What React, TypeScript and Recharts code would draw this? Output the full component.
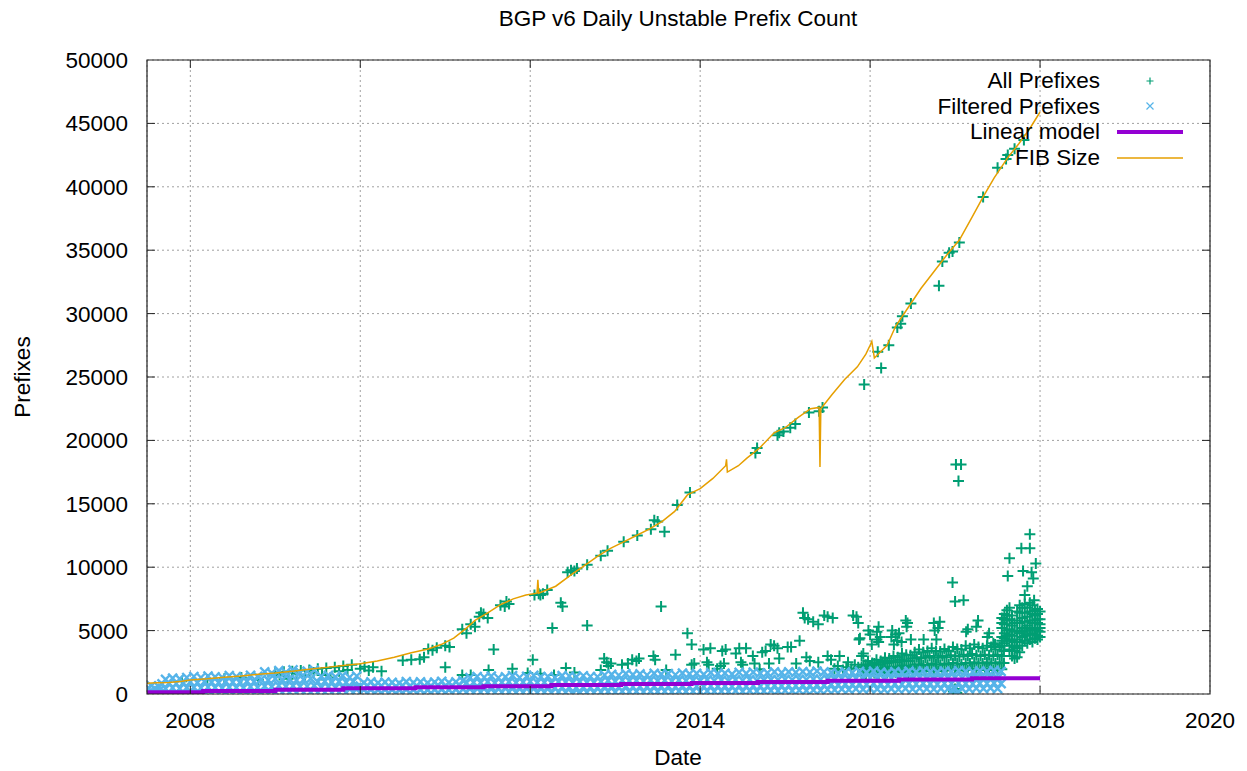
import {
  ComposedChart,
  Scatter,
  Line,
  XAxis,
  YAxis,
  CartesianGrid,
  ReferenceArea,
  ReferenceLine,
  Legend,
} from "recharts"

const FONT = '"Liberation Sans", Arial, Helvetica, sans-serif'
const FS = 22.5

const X_MIN = 2007.49
const X_MAX = 2020
const xTicks = [2008, 2010, 2012, 2014, 2016, 2018, 2020]
const yTicks = [0, 5000, 10000, 15000, 20000, 25000, 30000, 35000, 40000, 45000, 50000]

// FIB size (year, prefixes)
const fibSize: [number, number][] = [
  [2007.49, 850], [2007.6, 880], [2007.75, 900], [2007.9, 1000], [2008.0, 1100],
  [2008.2, 1200], [2008.4, 1330], [2008.6, 1420], [2008.8, 1550], [2009.0, 1650],
  [2009.2, 1800], [2009.4, 1950], [2009.6, 2100], [2009.8, 2250], [2010.0, 2380],
  [2010.2, 2600], [2010.4, 2900], [2010.6, 3250], [2010.8, 3550], [2010.95, 3900],
  [2011.1, 4400], [2011.25, 5200], [2011.35, 5800], [2011.5, 6400], [2011.65, 7050],
  [2011.8, 7500], [2011.95, 7800], [2012.08, 7950], [2012.09, 9000], [2012.1, 7950],
  [2012.3, 8500], [2012.5, 9500], [2012.6, 9950], [2012.8, 10900], [2012.95, 11500],
  [2013.1, 12000], [2013.25, 12500], [2013.4, 13000], [2013.55, 13600], [2013.7, 14400],
  [2013.85, 15700], [2014.0, 16200], [2014.15, 17000], [2014.3, 18000], [2014.31, 18500],
  [2014.32, 17500], [2014.45, 18000], [2014.55, 18600], [2014.7, 19400], [2014.87, 20600],
  [2015.0, 21000], [2015.15, 21800], [2015.3, 22500], [2015.4, 22600], [2015.41, 17900],
  [2015.42, 22500], [2015.55, 23600], [2015.7, 24800], [2015.85, 25800], [2015.95, 26800],
  [2016.0, 27500], [2016.02, 27800], [2016.05, 26500], [2016.2, 27500], [2016.3, 29000],
  [2016.45, 30500], [2016.6, 32000], [2016.75, 33300], [2016.9, 34600], [2017.05, 35800],
  [2017.2, 37600], [2017.33, 39200], [2017.46, 40700], [2017.62, 42300], [2017.75, 43400],
  [2017.88, 44600], [2018.0, 45900],
]

// linear model, held between refits
const linearModel: [number, number][] = [
  [2007.49, 130], [2008.15, 240], [2009.0, 340], [2009.8, 450], [2010.65, 540],
  [2011.45, 620], [2012.25, 700], [2013.07, 780], [2013.9, 860], [2014.68, 950],
  [2015.5, 1050], [2016.34, 1150], [2017.2, 1250], [2018.0, 1250],
]

// all prefixes: points on / near the FIB curve
const allNearFib: [number, number][] = [
  [2007.9, 1000], [2008.2, 1150], [2008.4, 1200], [2008.6, 1300], [2008.8, 1100],
  [2009.0, 1700], [2009.05, 1500], [2009.1, 1750], [2009.15, 1200], [2009.2, 1800],
  [2009.25, 1600], [2009.3, 1850], [2009.35, 1400], [2009.4, 1900], [2009.45, 1700],
  [2009.5, 2000], [2009.55, 1500], [2009.6, 2050], [2009.65, 1300], [2009.7, 2100],
  [2009.75, 1800], [2009.8, 2200], [2009.85, 1900], [2009.9, 2300], [2010.0, 2000],
  [2010.05, 2150], [2010.1, 1850], [2010.15, 2100], [2010.25, 1800],
  [2010.5, 2650], [2010.6, 2700], [2010.7, 2750], [2010.75, 2900],
  [2010.8, 3550], [2010.85, 3450], [2010.9, 3650], [2011.0, 3800], [2011.05, 3700],
  [2011.2, 5100], [2011.25, 4800], [2011.3, 5500], [2011.35, 5300],
  [2011.4, 6100], [2011.42, 6400], [2011.45, 6300], [2011.5, 6000], [2011.65, 7000],
  [2011.7, 6900], [2011.72, 7300], [2011.75, 7100],
  [2012.05, 7800], [2012.1, 7900], [2012.12, 7800], [2012.15, 7900], [2012.2, 8200],
  [2012.44, 9600], [2012.48, 9750], [2012.52, 9700], [2012.55, 9900], [2012.67, 10200],
  [2012.83, 10900], [2012.91, 11300], [2013.1, 12000], [2013.26, 12500], [2013.42, 13000],
  [2013.46, 13700], [2013.5, 13600], [2013.58, 12800], [2013.73, 14900], [2013.88, 15900],
  [2014.65, 19000], [2014.67, 19400], [2014.91, 20400], [2014.93, 20600], [2014.98, 20700],
  [2015.06, 21000], [2015.12, 21300], [2015.28, 22200], [2015.4, 22300], [2015.44, 22600],
  [2015.93, 24400], [2016.09, 27000], [2016.13, 25700], [2016.22, 27500], [2016.32, 28900],
  [2016.36, 29200], [2016.38, 29800], [2016.48, 30800], [2016.81, 32200], [2016.85, 34100],
  [2016.93, 34800], [2016.97, 34900], [2017.05, 35600], [2017.33, 39200], [2017.5, 41500],
  [2017.6, 42200], [2017.62, 42500], [2017.7, 43000], [2017.81, 43700],
]

// all prefixes: scattered points above the filtered band
const allScattered: [number, number][] = [
  [2011.0, 2100], [2011.2, 1500], [2011.3, 1500], [2011.51, 1900], [2011.57, 3500],
  [2011.79, 2000], [2011.97, 1650], [2012.03, 2700], [2012.12, 1600],
  [2012.26, 5200], [2012.28, 1500], [2012.36, 7200], [2012.38, 6900], [2012.42, 2050],
  [2012.52, 1700], [2012.67, 5400], [2012.83, 1900], [2012.87, 2800], [2012.9, 2500],
  [2012.92, 2200], [2012.95, 2400],
  [2013.08, 2300], [2013.15, 2400], [2013.2, 2700], [2013.25, 2600], [2013.28, 2800],
  [2013.45, 3000], [2013.47, 2700], [2013.54, 6900], [2013.71, 3100], [2013.85, 4800],
  [2013.9, 3900], [2013.9, 2300], [2013.93, 2400],
  [2014.04, 3500], [2014.08, 2500], [2014.1, 2300], [2014.12, 3600], [2014.24, 2200],
  [2014.26, 3400], [2014.28, 2400], [2014.3, 3500], [2014.42, 3200], [2014.46, 3600],
  [2014.48, 2500], [2014.5, 2300], [2014.54, 3600], [2014.62, 3000], [2014.64, 2400],
  [2014.73, 3300], [2014.77, 3400], [2014.81, 2400], [2014.83, 3900], [2014.87, 3800],
  [2014.91, 3600], [2014.93, 2800],
  [2015.03, 3700], [2015.07, 3700], [2015.13, 2400], [2015.17, 4200], [2015.21, 6400],
  [2015.23, 6000], [2015.25, 2900], [2015.27, 5900], [2015.29, 2600], [2015.33, 5700],
  [2015.39, 5500], [2015.39, 2500], [2015.46, 6200], [2015.5, 6100], [2015.5, 3000],
  [2015.54, 2700], [2015.56, 6000], [2015.64, 3000], [2015.74, 2500], [2015.8, 6200],
  [2015.84, 6100], [2015.86, 5600], [2015.87, 4300], [2015.88, 4400], [2015.9, 3000],
  [2015.92, 3200], [2015.98, 5000],
  [2015.58, 2000], [2015.62, 2200], [2015.68, 1900], [2015.72, 2100], [2015.78, 2000],
  [2015.82, 2300], [2015.86, 2100], [2013.6, 1900], [2014.2, 2000], [2014.7, 1950],
  [2016.0, 4700], [2016.02, 3900], [2016.08, 4900], [2016.08, 4300], [2016.1, 5300],
  [2016.1, 4100], [2016.12, 4500], [2016.25, 4500], [2016.26, 5000], [2016.28, 3900],
  [2016.3, 4700], [2016.32, 4200], [2016.34, 4800], [2016.37, 4100], [2016.42, 5800],
  [2016.43, 5300], [2016.44, 5600], [2016.48, 4300], [2016.63, 4300], [2016.75, 5600],
  [2016.76, 5000], [2016.78, 4300], [2016.8, 5200], [2016.82, 5700],
  [2016.97, 8800], [2017.0, 7300], [2017.01, 18100], [2017.04, 16800], [2017.07, 18100],
  [2017.1, 7400], [2017.13, 4900], [2017.15, 5100], [2017.25, 5300], [2017.27, 5800],
  [2017.38, 4500], [2017.4, 4800], [2017.45, 4000], [2017.47, 3900],
  [2017.62, 9300], [2017.64, 10700], [2017.78, 11500], [2017.8, 9700], [2017.82, 7800],
  [2017.85, 8500], [2017.88, 11500], [2017.88, 12600], [2017.9, 9600], [2017.92, 9100],
  [2017.93, 7400], [2017.95, 10300], [2017.97, 6700],
  [2016.98, 200], [2017.0, 400], [2017.02, 100],
]

// all prefixes: dense band 2015.90 .. 2017.55, one column every 0.05 year
const DENSE_START = 2015.9
const denseA = [1500, 1600, 1550, 1650, 1600, 1700, 1650, 1750, 1700, 1800, 1750, 1700, 1800, 1850, 1750, 1800, 1900, 1850, 1800, 1900, 1850, 1950, 1900, 1850, 1950, 1900, 2000, 1950, 1900, 2000, 1950, 1900, 2000, 1950]
const denseB = [1900, 2000, 1950, 2050, 2000, 2100, 2050, 2150, 2100, 2250, 2200, 2150, 2300, 2350, 2250, 2300, 2400, 2350, 2300, 2400, 2350, 2450, 2400, 2350, 2450, 2400, 2500, 2450, 2400, 2500, 2450, 2400, 2500, 2450]
const denseC = [2100, 2300, 2200, 2400, 2300, 2500, 2450, 2600, 2500, 2700, 2650, 2600, 2800, 2900, 2800, 2850, 3000, 2900, 2850, 3000, 2900, 3050, 3000, 2950, 3100, 3000, 3150, 3050, 3000, 3100, 3050, 3000, 3100, 3000]
const denseD = [2300, 2600, 2450, 2700, 2600, 2850, 2800, 3000, 2900, 3200, 3100, 3050, 3300, 3500, 3300, 3400, 3600, 3400, 3350, 3550, 3400, 3700, 3550, 3500, 3800, 3600, 3900, 3700, 3600, 3800, 3700, 3500, 3700, 3400]

// all prefixes: late 2017 cluster
const lateYears = [2017.55, 2017.58, 2017.61, 2017.64, 2017.67, 2017.7, 2017.73, 2017.76, 2017.79, 2017.82, 2017.85, 2017.88, 2017.91, 2017.94, 2017.97, 2018.0]
const lateValues = [
  [3800, 4500, 5200, 6000, 4200, 5600],
  [4000, 4800, 5500, 6300, 4400, 5900],
  [4200, 5000, 5800, 6600, 4600, 6200],
  [3500, 4300, 5100, 5900, 6800, 4700],
  [3000, 3800, 4600, 5400, 6200, 4200],
  [2800, 3400, 4100, 4900, 5600, 3700],
  [2900, 3600, 4300, 5000, 5800, 6500],
  [3300, 4100, 4800, 5600, 6400, 7000],
  [3800, 4500, 5200, 6000, 6800, 4900],
  [4200, 5000, 5700, 6400, 7100, 4600],
  [4000, 4700, 5400, 6100, 6800, 5000],
  [4300, 5000, 5800, 6500, 7200, 4700],
  [4100, 4800, 5600, 6300, 7000, 5200],
  [4400, 5100, 5800, 6600, 4700, 6200],
  [4300, 5000, 5600, 6300, 4600, 5900],
  [4500, 5200, 5900, 6500, 4900, 5500],
]

// filtered prefixes: monthly columns from 2007.5 to 2017.5
const FILT_START = 2007.5
const filtLow = [
  60, 40,
  90, 70, 110, 80,
  120, 90, 150, 100, 80, 130, 110, 90, 140, 100,
  120, 90, 140, 100, 130, 80, 110, 150,
  100, 130, 90, 120, 80, 110,
  60, 90, 50, 80, 70, 40, 90, 60, 80, 50, 70, 90, 60, 80, 100,
  120, 100, 140, 110, 90, 130, 150, 100, 120, 140, 110, 130, 90, 150, 120, 100, 140, 130, 110, 150,
  180, 150, 200, 170, 190, 160, 210, 180, 200, 170, 220, 190, 210, 180, 230, 200, 220, 190, 240, 210, 250, 220, 230, 260, 240, 270, 250, 280, 260, 300, 280,
  350, 320, 380, 340, 400, 360, 420, 380, 350, 400, 370, 420, 390, 440, 400, 380, 430, 410, 450, 420, 400, 440, 430, 460, 420,
]
const filtMid1 = [
  250, 220,
  420, 480, 450, 500,
  520, 480, 550, 500, 470, 540, 510, 490, 560, 530,
  620, 580, 650, 600, 640, 590, 610, 660,
  520, 560, 500, 540, 480, 530,
  330, 360, 310, 350, 340, 300, 370, 330, 350, 320, 340, 380, 330, 360, 390,
  480, 520, 500, 540, 470, 510, 550, 490, 530, 560, 500, 520, 480, 550, 530, 500, 540, 520, 510, 560,
  580, 550, 600, 570, 590, 560, 610, 580, 600, 570, 620, 590, 610, 580, 630, 600, 620, 590, 640, 610, 650, 620, 630, 660, 640, 670, 650, 680, 660, 700, 680,
  760, 720, 780, 740, 800, 760, 820, 780, 750, 800, 770, 820, 790, 840, 800, 780, 830, 810, 850, 820, 800, 840, 830, 860, 820,
]
const filtMid2 = [
  450, 420,
  800, 860, 830, 880,
  950, 900, 980, 930, 900, 970, 940, 920, 990, 960,
  1150, 1100, 1200, 1120, 1180, 1090, 1140, 1210,
  950, 1000, 930, 980, 910, 970,
  620, 660, 600, 650, 630, 590, 670, 620, 650, 610, 640, 680, 620, 660, 700,
  880, 920, 900, 950, 870, 910, 960, 890, 930, 970, 900, 920, 880, 960, 940, 900, 950, 920, 910, 980,
  1050, 1000, 1080, 1030, 1060, 1010, 1090, 1040, 1070, 1020, 1100, 1050, 1080, 1030, 1110, 1060, 1090, 1040, 1120, 1070, 1130, 1080, 1100, 1140, 1110, 1150, 1120, 1160, 1130, 1180, 1150,
  1180, 1150, 1220, 1170, 1240, 1190, 1260, 1210, 1180, 1240, 1200, 1260, 1220, 1280, 1240, 1210, 1270, 1250, 1290, 1260, 1230, 1280, 1260, 1300, 1250,
]
const filtHigh = [
  650, 600,
  1150, 1250, 1200, 1300,
  1380, 1300, 1420, 1350, 1320, 1450, 1380, 1340, 1480, 1400,
  1750, 1650, 1850, 1700, 1900, 1680, 1800, 1880,
  1400, 1480, 1350, 1450, 1320, 1420,
  900, 960, 870, 940, 920, 850, 980, 900, 950, 880, 930, 1000, 900, 960, 1050,
  1300, 1380, 1320, 1420, 1280, 1350, 1450, 1300, 1400, 1480, 1350, 1380, 1300, 1450, 1420, 1350, 1440, 1380, 1360, 1500,
  1550, 1480, 1600, 1530, 1580, 1500, 1620, 1560, 1600, 1520, 1650, 1580, 1620, 1550, 1680, 1600, 1640, 1570, 1700, 1620, 1720, 1640, 1660, 1740, 1680, 1750, 1700, 1760, 1720, 1800, 1750,
  1700, 1650, 1750, 1680, 1780, 1700, 1800, 1720, 1680, 1760, 1700, 1800, 1740, 1820, 1760, 1720, 1800, 1770, 1840, 1780, 1740, 1820, 1790, 1860, 1780,
]
const filtExtra: [number, number][] = [
  [2016.97, 300], [2017.03, 150], [2012.5, 20], [2012.58, 60],
]

const pairs = (arr: [number, number][]) => arr.map(([x, y]) => ({ x, y }))

const fibData = pairs(fibSize)
const linearData = pairs(linearModel)

const allData = [
  ...pairs(allNearFib),
  ...pairs(allScattered),
  ...[denseA, denseB, denseC, denseD].flatMap((col, k) =>
    col.map((y, i) => ({ x: DENSE_START + i * 0.05 + (k % 2) * 0.025, y }))
  ),
  ...lateYears.flatMap((x, i) => lateValues[i].map((y) => ({ x, y }))),
]

const filteredData = [
  ...[filtLow, filtMid1, filtMid2, filtHigh].flatMap((col, k) =>
    col.map((y, i) => ({ x: FILT_START + i / 12 + (k % 2) / 24, y }))
  ),
  ...pairs(filtExtra),
]

const GREEN = "#009e73"
const BLUE = "#56b4e9"
const PURPLE = "#9400d3"
const ORANGE = "#e69f00"

const Plus = (props: any) => {
  const { cx, cy } = props
  if (cx == null || cy == null) return null
  return <path d={`M${cx - 5.5} ${cy}H${cx + 5.5}M${cx} ${cy - 5.5}V${cy + 5.5}`} stroke={GREEN} strokeWidth={2} fill="none" />
}

const Cross = (props: any) => {
  const { cx, cy } = props
  if (cx == null || cy == null) return null
  return (
    <path
      d={`M${cx - 4.5} ${cy - 4.5}L${cx + 4.5} ${cy + 4.5}M${cx - 4.5} ${cy + 4.5}L${cx + 4.5} ${cy - 4.5}`}
      stroke={BLUE}
      strokeWidth={2.4}
      fill="none"
    />
  )
}

const legendItems = [
  { name: "All Prefixes", kind: "plus" },
  { name: "Filtered Prefixes", kind: "cross" },
  { name: "Linear model", kind: "thick" },
  { name: "FIB Size", kind: "thin" },
]

const LegendBox = () => (
  <div style={{ width: 310, fontFamily: FONT, fontSize: FS, color: "#000" }}>
    {legendItems.map((item) => (
      <div key={item.name} style={{ display: "flex", alignItems: "center", height: 25.6 }}>
        <span style={{ width: 220, textAlign: "right", whiteSpace: "nowrap", lineHeight: "25px" }}>{item.name}</span>
        <svg width={90} height={26}>
          {item.kind === "plus" && <path d="M46.5 13H53.5M50 9.5V16.5" stroke={GREEN} strokeWidth={1.2} />}
          {item.kind === "cross" && <path d="M46.5 9.5L53.5 16.5M46.5 16.5L53.5 9.5" stroke={BLUE} strokeWidth={1.2} />}
          {item.kind === "thick" && <line x1={17} x2={83} y1={13} y2={13} stroke={PURPLE} strokeWidth={4} />}
          {item.kind === "thin" && <line x1={17} x2={83} y1={13} y2={13} stroke={ORANGE} strokeWidth={1.5} />}
        </svg>
      </div>
    ))}
  </div>
)

const YLabel = () => (
  <text transform="translate(30,377) rotate(-90)" textAnchor="middle" fontSize={FS} fontFamily={FONT} fill="#000">
    Prefixes
  </text>
)

const XLabel = () => (
  <text x={678} y={765} textAnchor="middle" fontSize={FS} fontFamily={FONT} fill="#000">
    Date
  </text>
)

// tick mark lengths (8px) in data units
const TICK_X = 0.094
const TICK_Y = 631

export default function App() {
  return (
    <div style={{ position: "absolute", left: 0, top: 0, width: 1247, height: 771, background: "#fff", fontFamily: FONT }}>
      <ComposedChart width={1247} height={771} margin={{ top: 60, right: 37, bottom: 0, left: 0 }}>
        <CartesianGrid stroke="#a0a0a0" strokeDasharray="2 3" />
        <XAxis
          type="number"
          dataKey="x"
          domain={[X_MIN, X_MAX]}
          ticks={xTicks}
          allowDataOverflow
          height={77}
          axisLine={false}
          tickLine={false}
          tickSize={0}
          tickMargin={18}
          tick={{ fill: "#000", fontSize: FS, fontFamily: FONT }}
          label={<XLabel />}
        />
        <YAxis
          type="number"
          dataKey="y"
          domain={[0, 50000]}
          ticks={yTicks}
          allowDataOverflow
          width={147}
          axisLine={false}
          tickLine={false}
          tickSize={0}
          tickMargin={19}
          tick={{ fill: "#000", fontSize: FS, fontFamily: FONT }}
          label={<YLabel />}
        />
        <Scatter name="All Prefixes" data={allData} dataKey="y" shape={Plus} isAnimationActive={false} zIndex={600} />
        <Scatter name="Filtered Prefixes" data={filteredData} dataKey="y" shape={Cross} isAnimationActive={false} zIndex={601} />
        <Line
          name="Linear model"
          data={linearData}
          dataKey="y"
          type="stepAfter"
          stroke={PURPLE}
          strokeWidth={4}
          dot={false}
          activeDot={false}
          isAnimationActive={false}
          zIndex={602}
        />
        <Line
          name="FIB Size"
          data={fibData}
          dataKey="y"
          type="linear"
          stroke={ORANGE}
          strokeWidth={1.5}
          dot={false}
          activeDot={false}
          isAnimationActive={false}
          zIndex={603}
        />
        <ReferenceArea x1={X_MIN} x2={X_MAX} y1={0} y2={50000} fill="none" stroke="#222" strokeWidth={1.2} zIndex={700} />
        {xTicks.filter((t) => t < X_MAX).map((t) => (
          <ReferenceLine key={`xb${t}`} segment={[{ x: t, y: 0 }, { x: t, y: TICK_Y }]} stroke="#222" zIndex={700} />
        ))}
        {xTicks.filter((t) => t < X_MAX).map((t) => (
          <ReferenceLine key={`xt${t}`} segment={[{ x: t, y: 50000 }, { x: t, y: 50000 - TICK_Y }]} stroke="#222" zIndex={700} />
        ))}
        {yTicks.filter((t) => t > 0 && t < 50000).map((t) => (
          <ReferenceLine key={`yl${t}`} segment={[{ x: X_MIN, y: t }, { x: X_MIN + TICK_X, y: t }]} stroke="#222" zIndex={700} />
        ))}
        {yTicks.filter((t) => t > 0 && t < 50000).map((t) => (
          <ReferenceLine key={`yr${t}`} segment={[{ x: X_MAX, y: t }, { x: X_MAX - TICK_X, y: t }]} stroke="#222" zIndex={700} />
        ))}
        <Legend
          layout="horizontal"
          verticalAlign="middle"
          align="center"
          content={<LegendBox />}
          wrapperStyle={{ top: 68, left: 880, width: 310 }}
        />
      </ComposedChart>
      <div
        style={{
          position: "absolute",
          left: 178,
          top: 6,
          width: 1000,
          textAlign: "center",
          fontSize: FS,
          lineHeight: "25px",
          color: "#000",
        }}
      >
        BGP v6 Daily Unstable Prefix Count
      </div>
    </div>
  )
}
